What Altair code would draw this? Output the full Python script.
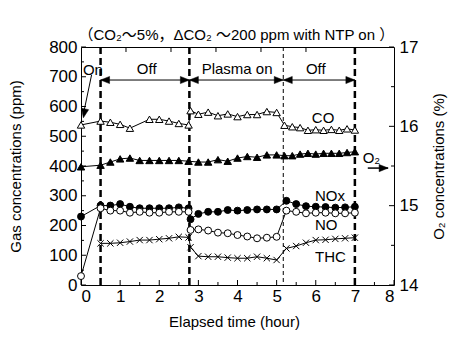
import altair as alt
import pandas as pd

# ---------------- data ----------------
co_t = [0, 0.5, 0.75, 1.0, 1.25, 1.75, 2.0, 2.25, 2.5, 2.75,
        2.8, 3.0, 3.25, 3.5, 3.75, 4.0, 4.25, 4.5, 4.75, 5.0,
        5.2, 5.4, 5.6, 5.8, 6.0, 6.2, 6.4, 6.6, 6.8, 7.0]
co_v = [538, 551, 547, 540, 527, 557, 557, 551, 543, 538,
        586, 574, 581, 569, 575, 566, 573, 573, 583, 580,
        537, 532, 529, 520, 522, 520, 523, 520, 525, 521]

o2_t = [0, 0.5, 0.75, 1.0, 1.25, 1.5, 1.75, 2.0, 2.25, 2.5, 2.75,
        3.0, 3.25, 3.5, 3.75, 4.0, 4.25, 4.5, 4.75, 5.0,
        5.2, 5.4, 5.6, 5.8, 6.0, 6.2, 6.4, 6.6, 6.8, 7.0]
o2_v = [15.49, 15.51, 15.55, 15.59, 15.60, 15.57, 15.57, 15.57, 15.57, 15.57, 15.56,
        15.55, 15.55, 15.58, 15.56, 15.60, 15.62, 15.61, 15.64, 15.64,
        15.63, 15.63, 15.65, 15.66, 15.65, 15.66, 15.66, 15.66, 15.67, 15.68]

nox_t = [0, 0.5, 0.75, 1.0, 1.25, 1.5, 1.75, 2.0, 2.25, 2.5, 2.75,
         2.8, 3.0, 3.25, 3.5, 3.75, 4.0, 4.25, 4.5, 4.75, 5.0,
         5.25, 5.5, 5.75, 6.0, 6.25, 6.5, 6.75, 7.0]
nox_v = [230, 267, 267, 272, 263, 258, 258, 258, 258, 261, 258,
         221, 239, 246, 246, 252, 250, 252, 254, 254, 254,
         283, 272, 265, 263, 262, 260, 261, 263]

no_t = nox_t
no_v = [30, 258, 250, 250, 243, 246, 243, 243, 246, 246, 246,
        185, 187, 183, 176, 174, 168, 163, 157, 159, 162,
        250, 246, 241, 243, 243, 241, 241, 243]

thc_t = [0.5, 0.75, 1.0, 1.25, 1.5, 1.75, 2.0, 2.25, 2.5, 2.75,
         2.8, 3.0, 3.25, 3.5, 3.75, 4.0, 4.25, 4.5, 4.75, 5.0,
         5.25, 5.5, 5.75, 6.0, 6.25, 6.5, 6.75, 7.0]
thc_v = [140, 140, 142, 146, 151, 151, 154, 157, 162, 160,
         127, 97, 95, 95, 92, 90, 90, 95, 90, 84,
         123, 131, 142, 151, 152, 155, 157, 159]

# axis ticks / labels
x_labels = [0, 1, 2, 3, 4, 5, 6, 7, 8]
x_minor = [0.5, 1.5, 2.5, 3.5, 4.5, 5.5, 6.5, 7.5]
top_ticks = [1.15, 2.3, 3.45, 4.6, 5.75]
y_labels = [0, 100, 200, 300, 400, 500, 600, 700, 800]
y_minor = [50, 150, 250, 350, 450, 550, 650, 750]
y2_labels = [14, 15, 16, 17]
y2_minor = [14.5, 15.5, 16.5]

# phase boundaries
thick_lines = [0.5, 2.77, 7.0]
thin_lines = [5.17]

# phase arrows (start, end) at a height in ppm
phase_start = [0.5, 2.77, 5.17]
phase_end = [2.77, 5.17, 7.0]
phase_level = 689
phase_names = ["Off", "Plasma on", "Off"]
phase_text_t = [1.68, 3.99, 6.0]
phase_text_v = 727

# labels
series_labels = ["CO", "NOx", "NO", "THC"]
series_label_t = [5.9, 5.98, 5.98, 5.98]
series_label_v = [563, 299, 202, 94]

W, H = 313, 238
FONT = "Liberation Sans, Arial, Noto Sans CJK JP"

xs = alt.Scale(domain=[0, 8], nice=False, zero=False)
ys = alt.Scale(domain=[0, 800], nice=False, zero=False)
y2s = alt.Scale(domain=[14, 17], nice=False, zero=False)

x_axis = alt.Axis(values=x_labels, title="Elapsed time (hour)", ticks=False, tickSize=0,
                  domain=False, grid=False, labelFontSize=17, labelPadding=3,
                  labelFont=FONT, titleFont=FONT, titleFontSize=15, titleFontWeight="normal",
                  titleX=153, titleY=36, titleBaseline="middle", titleAlign="center",
                  labelColor="black", titleColor="black")
y_axis = alt.Axis(values=y_labels, title="Gas concentrations (ppm)", ticks=False, tickSize=0,
                  domain=False, grid=False, labelFontSize=17, labelPadding=4,
                  labelFont=FONT, titleFont=FONT, titleFontSize=15, titleFontWeight="normal",
                  titleX=-66, titleY=119, titleAngle=270, titleBaseline="middle",
                  titleAlign="center", labelColor="black", titleColor="black")
y2_axis = alt.Axis(values=y2_labels, title="O₂ concentrations (%)", orient="right",
                   ticks=False, tickSize=0, domain=False, grid=False, labelFontSize=17,
                   labelPadding=5, labelFont=FONT, titleFont=FONT, titleFontSize=15,
                   titleFontWeight="normal", titleX=44, titleY=119, titleAngle=270,
                   titleBaseline="middle", titleAlign="center",
                   labelColor="black", titleColor="black")

X = alt.X("t:Q", scale=xs, axis=x_axis)
X2 = alt.X2("t2:Q")
Y = alt.Y("v:Q", scale=ys, axis=y_axis)
Y2 = alt.Y("v:Q", scale=y2s, axis=y2_axis)

XMARK = "M-1,-1L1,1M-1,1L1,-1"


def df(t, v):
    return pd.DataFrame({"t": t, "v": v})


def line_and_points(d, yenc, shape, filled, size):
    base = alt.Chart(d).encode(x=X, y=yenc)
    ln = base.mark_line(color="black", strokeWidth=1)
    if shape == XMARK:
        pt = base.mark_point(shape=shape, filled=False, size=size, stroke="black",
                             strokeWidth=1, opacity=1)
    else:
        pt = base.mark_point(shape=shape, filled=True, size=size,
                             fill="black" if filled else "white", stroke="black",
                             strokeWidth=1, opacity=1)
    return [ln, pt]


co_df = df(co_t, co_v)
o2_df = df(o2_t, o2_v)
nox_df = df(nox_t, nox_v)
no_df = df(no_t, no_v)
thc_df = df(thc_t, thc_v)

left_layers = []

# ticks (inward)
left_layers.append(alt.Chart(pd.DataFrame({"t": x_labels})).mark_rule(color="black", strokeWidth=1)
                   .encode(x=X, y=alt.value(H), y2=alt.value(H - 5)))
left_layers.append(alt.Chart(pd.DataFrame({"t": x_minor})).mark_rule(color="black", strokeWidth=1)
                   .encode(x=X, y=alt.value(H), y2=alt.value(H - 3)))
left_layers.append(alt.Chart(pd.DataFrame({"t": top_ticks})).mark_rule(color="black", strokeWidth=1)
                   .encode(x=X, y=alt.value(0), y2=alt.value(5)))
left_layers.append(alt.Chart(pd.DataFrame({"t": [0] * len(y_labels), "v": y_labels}))
                   .mark_rule(color="black", strokeWidth=1)
                   .encode(y=Y, x=alt.value(0), x2=alt.value(5)))
left_layers.append(alt.Chart(pd.DataFrame({"t": [0] * len(y_minor), "v": y_minor}))
                   .mark_rule(color="black", strokeWidth=1)
                   .encode(y=Y, x=alt.value(0), x2=alt.value(3)))

# phase boundaries
left_layers.append(alt.Chart(pd.DataFrame({"t": thick_lines}))
                   .mark_rule(color="black", strokeWidth=2.5, strokeDash=[7, 4])
                   .encode(x=X))
left_layers.append(alt.Chart(pd.DataFrame({"t": thin_lines}))
                   .mark_rule(color="black", strokeWidth=1, strokeDash=[4, 3])
                   .encode(x=X))

# phase arrows
arr = pd.DataFrame({"t": phase_start, "t2": phase_end, "v": [phase_level] * 3})
left_layers.append(alt.Chart(arr).mark_rule(color="black", strokeWidth=1).encode(x=X, x2=X2, y=Y))
RIGHT_HEAD = "M0,0L-1,-0.4L-1,0.4Z"
LEFT_HEAD = "M0,0L1,-0.4L1,0.4Z"
left_layers.append(alt.Chart(pd.DataFrame({"t": phase_end, "v": [phase_level] * 3}))
                   .mark_point(shape=RIGHT_HEAD, size=324, filled=True, fill="black",
                               stroke="black", strokeWidth=0.5, opacity=1)
                   .encode(x=X, y=Y))
left_layers.append(alt.Chart(pd.DataFrame({"t": phase_start, "v": [phase_level] * 3}))
                   .mark_point(shape=LEFT_HEAD, size=324, filled=True, fill="black",
                               stroke="black", strokeWidth=0.5, opacity=1)
                   .encode(x=X, y=Y))
left_layers.append(alt.Chart(pd.DataFrame({"t": phase_text_t, "v": [phase_text_v] * 3,
                                           "s": phase_names}))
                   .mark_text(font=FONT, fontSize=15, color="black", align="center",
                              baseline="middle")
                   .encode(x=X, y=Y, text="s:N"))

# "On" label with arrow to first CO point
left_layers.append(alt.Chart(pd.DataFrame({"t": [0.05], "v": [722], "s": ["On"]}))
                   .mark_text(font=FONT, fontSize=15, color="black", align="left",
                              baseline="middle")
                   .encode(x=X, y=Y, text="s:N"))
left_layers.append(alt.Chart(pd.DataFrame({"t": [0.27], "t2": [0.07], "v": [706], "v2": [580]}))
                   .mark_rule(color="black", strokeWidth=1)
                   .encode(x=X, x2=X2, y=Y, y2=alt.Y2("v2:Q")))
DOWN_HEAD = "M0,0L-0.4,-1L0.4,-1Z"
left_layers.append(alt.Chart(pd.DataFrame({"t": [0.06], "v": [562]}))
                   .mark_point(shape=DOWN_HEAD, size=324, angle=11, filled=True, fill="black",
                               stroke="black", strokeWidth=0.5, opacity=1)
                   .encode(x=X, y=Y))

# series
left_layers += line_and_points(co_df, Y, "triangle-up", False, 55)
left_layers += line_and_points(nox_df, Y, "circle", True, 48)
left_layers += line_and_points(no_df, Y, "circle", False, 48)
left_layers += line_and_points(thc_df, Y, XMARK, False, 40)

# series labels
left_layers.append(alt.Chart(pd.DataFrame({"t": series_label_t, "v": series_label_v,
                                           "s": series_labels}))
                   .mark_text(font=FONT, fontSize=15, color="black", align="left",
                              baseline="middle")
                   .encode(x=X, y=Y, text="s:N"))

# O2 label + arrow
left_layers.append(alt.Chart(pd.DataFrame({"t": [7.2], "v": [427], "s": ["O₂"]}))
                   .mark_text(font=FONT, fontSize=15, color="black", align="left",
                              baseline="middle")
                   .encode(x=X, y=Y, text="s:N"))
left_layers.append(alt.Chart(pd.DataFrame({"t": [7.33], "t2": [7.85], "v": [393]}))
                   .mark_rule(color="black", strokeWidth=1.5)
                   .encode(x=X, x2=X2, y=Y))
left_layers.append(alt.Chart(pd.DataFrame({"t": [7.85], "v": [393]}))
                   .mark_point(shape=RIGHT_HEAD, size=324, filled=True, fill="black",
                               stroke="black", strokeWidth=0.5, opacity=1)
                   .encode(x=X, y=Y))

# top note
left_layers.append(alt.Chart(pd.DataFrame({"t": [3.97], "v": [842],
                                           "s": ["（CO₂～5%，ΔCO₂ ～200 ppm with NTP on ）"]}))
                   .mark_text(font=FONT, fontSize=15, color="black", align="center",
                              baseline="middle")
                   .encode(x=X, y=Y, text="s:N"))

left = alt.layer(*left_layers)

right_layers = []
right_layers.append(alt.Chart(pd.DataFrame({"t": [8] * len(y2_labels), "v": y2_labels}))
                    .mark_rule(color="black", strokeWidth=1)
                    .encode(y=Y2, x=alt.value(W), x2=alt.value(W - 5)))
right_layers.append(alt.Chart(pd.DataFrame({"t": [8] * len(y2_minor), "v": y2_minor}))
                    .mark_rule(color="black", strokeWidth=1)
                    .encode(y=Y2, x=alt.value(W), x2=alt.value(W - 3)))
right_layers += line_and_points(o2_df, Y2, "triangle-up", True, 55)
right = alt.layer(*right_layers)

chart = (alt.layer(left, right)
         .resolve_scale(y="independent")
         .resolve_axis(y="independent")
         .properties(width=W, height=H,
                     autosize=alt.AutoSizeParams(type="none"),
                     padding={"left": 81, "top": 47, "right": 74, "bottom": 69},
                     background="white")
         .configure_view(stroke="black", strokeWidth=1)
         .configure_axis(labelFont=FONT, titleFont=FONT))

chart.save("out.html", embed_options={"renderer": "svg", "actions": False})
